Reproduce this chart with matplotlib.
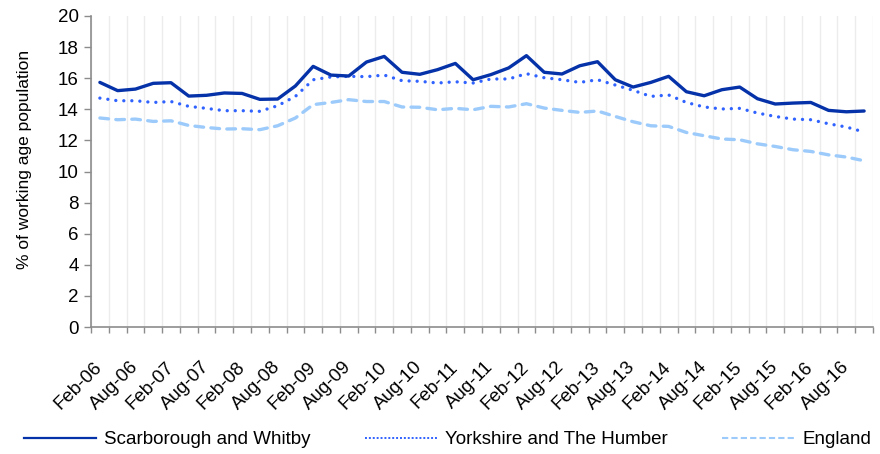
import matplotlib
matplotlib.use('Agg')
import matplotlib.pyplot as plt
import matplotlib.transforms as mtransforms
import numpy as np
from matplotlib.lines import Line2D

plt.rcParams['font.family'] = ['Liberation Sans', 'DejaVu Sans']

# quarterly values, Feb-06 .. Nov-16
scarborough = [15.73, 15.2, 15.3, 15.67, 15.71, 14.85, 14.9, 15.05, 15.02, 14.64, 14.66,
               15.5, 16.76, 16.2, 16.14, 17.04, 17.4, 16.38, 16.25, 16.55, 16.95, 15.9,
               16.23, 16.66, 17.45, 16.38, 16.27, 16.8, 17.06, 15.9, 15.43, 15.73, 16.12,
               15.13, 14.87, 15.26, 15.43, 14.68, 14.34, 14.4, 14.44, 13.93, 13.84, 13.89]
yorkshire = [14.72, 14.55, 14.55, 14.44, 14.5, 14.19, 14.06, 13.91, 13.91, 13.87, 14.23,
             14.83, 15.9, 16.08, 16.12, 16.1, 16.2, 15.84, 15.8, 15.69, 15.77, 15.69,
             15.95, 15.95, 16.29, 16.03, 15.9, 15.73, 15.9, 15.56, 15.22, 14.83, 14.92,
             14.44, 14.15, 14.02, 14.06, 13.76, 13.54, 13.37, 13.33, 13.07, 12.86, 12.54]
england = [13.44, 13.33, 13.37, 13.22, 13.26, 12.96, 12.83, 12.73, 12.75, 12.69, 12.94,
           13.44, 14.3, 14.44, 14.62, 14.5, 14.5, 14.15, 14.13, 13.97, 14.06, 13.97,
           14.19, 14.15, 14.36, 14.08, 13.93, 13.8, 13.89, 13.54, 13.2, 12.94, 12.9,
           12.51, 12.3, 12.09, 12.04, 11.78, 11.61, 11.4, 11.29, 11.07, 10.93, 10.69]

tick_labels = ['Feb-06', 'Aug-06', 'Feb-07', 'Aug-07', 'Feb-08', 'Aug-08', 'Feb-09', 'Aug-09',
               'Feb-10', 'Aug-10', 'Feb-11', 'Aug-11', 'Feb-12', 'Aug-12', 'Feb-13', 'Aug-13',
               'Feb-14', 'Aug-14', 'Feb-15', 'Aug-15', 'Feb-16', 'Aug-16']
series_names = ['Scarborough and Whitby', 'Yorkshire and The Humber', 'England']

dark = '#0532a8'
mid = '#2f62ff'
light = '#9ccbfb'
axis_grey = '#8c8c8c'

fig = plt.figure(figsize=(8.8, 4.54), dpi=100)
ax = fig.add_axes([91 / 880, 1 - 327 / 454, 782 / 880, 311 / 454])

x = np.arange(len(scarborough))
ax.plot(x, england, color=light, lw=2.4, linestyle=(0, (2.6, 2.2)),
        dash_capstyle='round', solid_joinstyle='round', zorder=3)
ax.plot(x, yorkshire, color=mid, lw=2.4, linestyle=(0, (0.01, 2.4)),
        dash_capstyle='round', zorder=4)
ax.plot(x, scarborough, color=dark, lw=2.4, solid_joinstyle='round',
        solid_capstyle='round', zorder=5)

ax.set_xlim(-0.5, len(scarborough) - 0.5)
ax.set_ylim(0, 20)
ax.set_yticks(np.arange(0, 21, 2))

# category boundaries: minor ticks + light vertical grid
ax.set_xticks(np.arange(-0.5, len(scarborough), 1), minor=True)
ax.set_xticks(np.arange(0, len(scarborough), 2))
ax.set_xticklabels(tick_labels, rotation=45, ha='right', va='center',
                   rotation_mode='anchor', fontsize=13.5)
shift = mtransforms.ScaledTranslation(-4 / 100, 0, fig.dpi_scale_trans)
for lab in ax.get_xticklabels():
    lab.set_transform(lab.get_transform() + shift)
ax.grid(which='minor', axis='x', color='#ececec', lw=1, zorder=0)
ax.tick_params(axis='x', which='major', length=0, pad=27)
ax.tick_params(axis='x', which='minor', length=4, color=axis_grey, width=1, direction='out')
ax.tick_params(axis='y', length=5, color=axis_grey, width=1, labelsize=13.5, pad=4)

for s in ['top', 'right']:
    ax.spines[s].set_visible(False)
for s in ['left', 'bottom']:
    ax.spines[s].set_color(axis_grey)
    ax.spines[s].set_linewidth(1.2)

ax.set_ylabel('% of working age population', fontsize=12.5)
ax.yaxis.set_label_coords(-0.075, 0.54)

handles = [Line2D([], [], color=dark, lw=1.6),
           Line2D([], [], color=mid, lw=1.4, linestyle=(0, (1, 1))),
           Line2D([], [], color=light, lw=1.5, linestyle=(0, (3, 1.5)))]
fig.legend(handles, series_names, loc='center', bbox_to_anchor=(0.5085, 0.031),
           ncol=3, frameon=False, fontsize=13.5, handlelength=3.85,
           handletextpad=0.43, columnspacing=2.9)

fig.savefig('out.png', dpi=100)
